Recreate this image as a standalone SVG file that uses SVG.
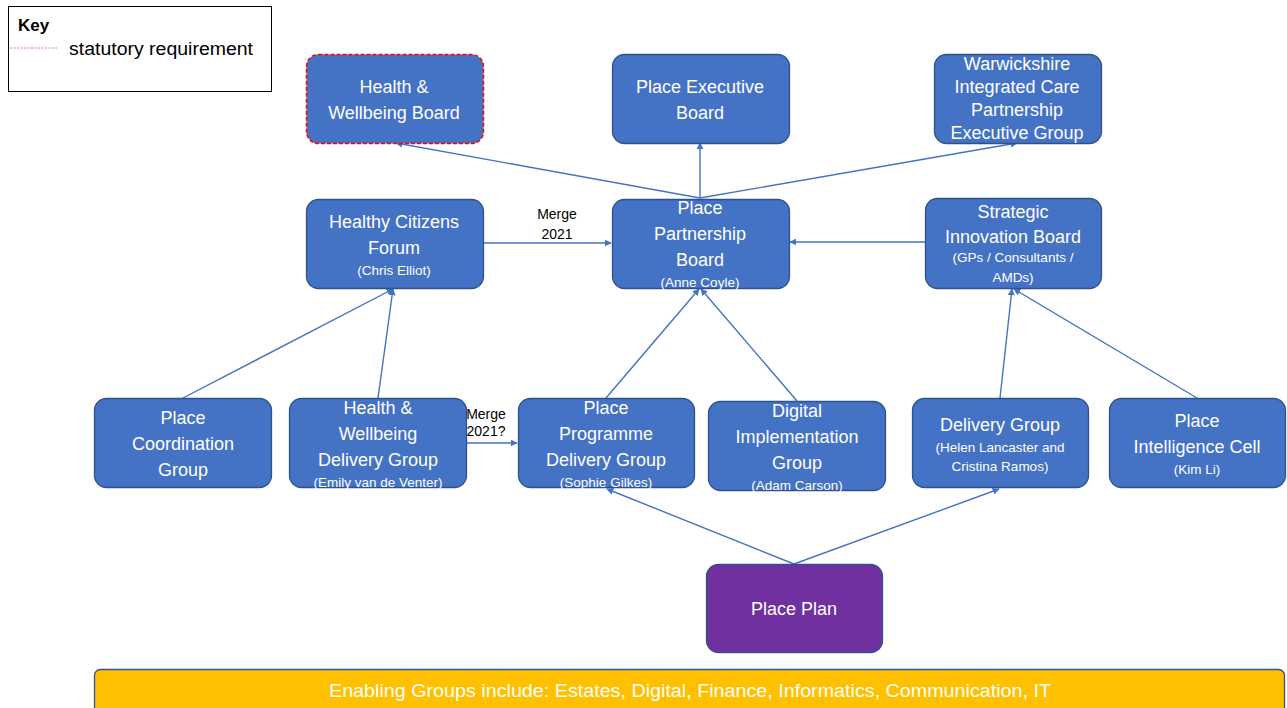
<svg xmlns="http://www.w3.org/2000/svg" width="1287" height="708" viewBox="0 0 1287 708">
<style>
.n{fill:#4472C4;stroke:#2F528F;stroke-width:1.3}
.r{stroke:#FF0000;stroke-dasharray:4,2;stroke-width:1.5}
.t{font-family:"Liberation Sans",Arial,sans-serif;fill:#fff;font-size:18px;text-anchor:middle}
.s{font-size:13.5px}
.c{stroke:#4472C4;stroke-width:1.4;fill:none;marker-end:url(#a)}
.l{font-family:"Liberation Sans",Arial,sans-serif;fill:#000;font-size:14px;text-anchor:middle}
</style>
<defs>
<marker id="a" viewBox="0 0 10 10" refX="9" refY="5" markerWidth="7" markerHeight="7" orient="auto" markerUnits="userSpaceOnUse">
<path d="M0,0 L10,5 L0,10 z" fill="#4472C4"/>
</marker>
</defs>
<rect width="1287" height="708" fill="#fff"/>
<g id="key">
<rect x="8.5" y="6.5" width="263" height="85" fill="#fff" stroke="#000" stroke-width="1"/>
<text x="18" y="31" font-family="Liberation Sans,Arial,sans-serif" font-weight="bold" font-size="17">Key</text>
<line x1="10" y1="48" x2="57" y2="48" stroke="#ff6b6b" stroke-width="1" stroke-dasharray="2,1.5"/>
<text x="69" y="55" font-family="Liberation Sans,Arial,sans-serif" font-size="18" textLength="184" lengthAdjust="spacingAndGlyphs">statutory requirement</text>
</g>
<g id="connectors">
<line class="c" x1="700" y1="198" x2="396" y2="143"/>
<line class="c" x1="700" y1="198" x2="700" y2="143"/>
<line class="c" x1="700" y1="198" x2="1017" y2="143"/>
<line class="c" x1="483" y1="243" x2="611" y2="243"/>
<line class="c" x1="925" y1="242" x2="790" y2="242"/>
<line class="c" x1="183" y1="398" x2="393" y2="289"/>
<line class="c" x1="378" y1="398" x2="393" y2="289"/>
<line class="c" x1="467" y1="443" x2="517" y2="443"/>
<line class="c" x1="606" y1="398" x2="699" y2="289"/>
<line class="c" x1="797" y1="401" x2="701" y2="289"/>
<line class="c" x1="1000" y1="398" x2="1012" y2="289"/>
<line class="c" x1="1197" y1="398" x2="1014" y2="289"/>
<line class="c" x1="794" y1="564" x2="607" y2="489"/>
<line class="c" x1="794" y1="564" x2="999" y2="489"/>
<text class="l" x="557" y="219">Merge</text>
<text class="l" x="557" y="239">2021</text>
<text class="l" x="486" y="419" font-size="11.5">Merge</text>
<text class="l" x="486" y="436" font-size="11.5">2021?</text>
</g>
<g id="hwb">
<rect class="n r" x="306.5" y="54.5" width="177" height="89" rx="12"/>
<text class="t" x="394" y="93">Health &amp;</text>
<text class="t" x="394" y="119">Wellbeing Board</text>
</g>
<g id="peb">
<rect class="n" x="612.5" y="54.5" width="177" height="89" rx="12"/>
<text class="t" x="700" y="93">Place Executive</text>
<text class="t" x="700" y="119">Board</text>
</g>
<g id="wicp">
<rect class="n" x="934.5" y="54.5" width="167" height="89" rx="12"/>
<text class="t" x="1017" y="70" font-size="16">Warwickshire</text>
<text class="t" x="1017" y="93" font-size="16">Integrated Care</text>
<text class="t" x="1017" y="116" font-size="16">Partnership</text>
<text class="t" x="1017" y="139" font-size="16">Executive Group</text>
</g>
<g id="hcf">
<rect class="n" x="306.5" y="199.5" width="177" height="89" rx="12"/>
<text class="t" x="394" y="228">Healthy Citizens</text>
<text class="t" x="394" y="254">Forum</text>
<text class="t s" x="394" y="275">(Chris Elliot)</text>
</g>
<g id="ppb">
<rect class="n" x="612.5" y="199.5" width="177" height="89" rx="12"/>
<text class="t" x="700" y="214">Place</text>
<text class="t" x="700" y="240">Partnership</text>
<text class="t" x="700" y="266">Board</text>
<text class="t s" x="700" y="287">(Anne Coyle)</text>
</g>
<g id="sib">
<rect class="n" x="925.5" y="198.5" width="176" height="90" rx="12"/>
<text class="t" x="1013" y="218">Strategic</text>
<text class="t" x="1013" y="243">Innovation Board</text>
<text class="t s" x="1013" y="262">(GPs / Consultants /</text>
<text class="t s" x="1013" y="282">AMDs)</text>
</g>
<g id="pcg">
<rect class="n" x="94.5" y="398.5" width="177" height="89" rx="12"/>
<text class="t" x="183" y="424">Place</text>
<text class="t" x="183" y="450">Coordination</text>
<text class="t" x="183" y="476">Group</text>
</g>
<g id="hwdg">
<rect class="n" x="289.5" y="398.5" width="177" height="89" rx="12"/>
<text class="t" x="378" y="414">Health &amp;</text>
<text class="t" x="378" y="440">Wellbeing</text>
<text class="t" x="378" y="466">Delivery Group</text>
<text class="t s" x="378" y="487">(Emily van de Venter)</text>
</g>
<g id="ppdg">
<rect class="n" x="518.5" y="398.5" width="176" height="89" rx="12"/>
<text class="t" x="606" y="414">Place</text>
<text class="t" x="606" y="440">Programme</text>
<text class="t" x="606" y="466">Delivery Group</text>
<text class="t s" x="606" y="487">(Sophie Gilkes)</text>
</g>
<g id="dig">
<rect class="n" x="708.5" y="401.5" width="177" height="89" rx="12"/>
<text class="t" x="797" y="417">Digital</text>
<text class="t" x="797" y="443">Implementation</text>
<text class="t" x="797" y="469">Group</text>
<text class="t s" x="797" y="490">(Adam Carson)</text>
</g>
<g id="dg">
<rect class="n" x="912.5" y="398.5" width="176" height="89" rx="12"/>
<text class="t" x="1000" y="431">Delivery Group</text>
<text class="t s" x="1000" y="452">(Helen Lancaster and</text>
<text class="t s" x="1000" y="471">Cristina Ramos)</text>
</g>
<g id="pic">
<rect class="n" x="1109.5" y="398.5" width="176" height="89" rx="12"/>
<text class="t" x="1197" y="427">Place</text>
<text class="t" x="1197" y="453">Intelligence Cell</text>
<text class="t s" x="1197" y="474">(Kim Li)</text>
</g>
<g id="pp">
<rect x="706.5" y="564.5" width="176" height="88" rx="12" fill="#7030A0" stroke="#2F528F" stroke-width="1.3"/>
<text class="t" x="794" y="615">Place Plan</text>
</g>
<g id="enabling">
<rect x="94.5" y="669.5" width="1190" height="50" rx="6" fill="#FFC000" stroke="#2F528F" stroke-width="1.3"/>
<text class="t" x="690" y="697" font-size="17" textLength="722" lengthAdjust="spacingAndGlyphs">Enabling Groups include: Estates, Digital, Finance, Informatics, Communication, IT</text>
</g>
</svg>
